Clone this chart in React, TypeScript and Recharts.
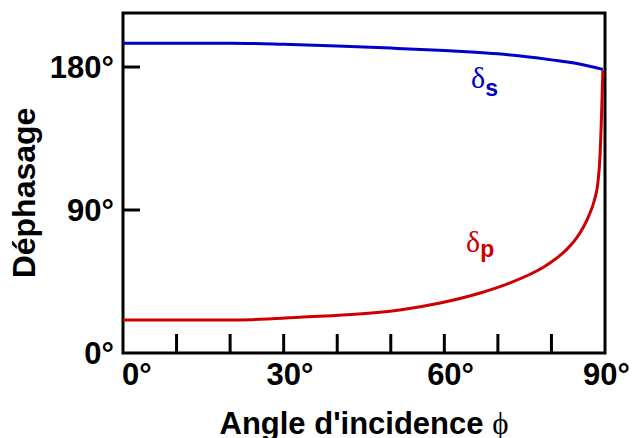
import { LineChart, Line, XAxis, YAxis, ReferenceArea, Customized } from "recharts";

// readings (angle in degrees -> phase shift in degrees)
const sAngles = [0, 10, 20, 30, 40, 50, 60, 65, 70, 75, 80, 85, 89.6];
const sPhase = [195, 195, 195, 194.3, 193.2, 191.9, 190.4, 189.5, 188.3, 186.6, 184.5, 182, 178.5];

const pAngles = [0, 10, 20, 24, 27, 33, 44, 51.7, 59.2, 66.7, 72.3, 76.6, 78.5, 80.5, 82, 83, 84.5, 86, 87, 88, 88.7, 89.1, 89.3, 89.45, 89.6];
const pPhase = [20.8, 20.8, 20.8, 21, 21.4, 22.5, 24.5, 27.1, 31.5, 37.8, 44.2, 50.5, 54, 58.5, 62.5, 65.7, 71.5, 79.5, 86.5, 96, 108, 126, 144, 160, 178];

const xTicks = [0, 10, 20, 30, 40, 50, 60, 70, 80, 90];
const xLabelled = [0, 30, 60, 90];
const yTicks = [0, 90, 180];

const sData = sAngles.map((a, i) => ({ angle: a, phase: sPhase[i] }));
const pData = pAngles.map((a, i) => ({ angle: a, phase: pPhase[i] }));

const FONT = "'Liberation Sans', Arial, sans-serif";
const SERIF = "'Liberation Serif', 'DejaVu Serif', serif";
const BLUE = "#0000c8";
const RED = "#cc0000";

const XTick = ({ x, y, payload }: any) => {
  const v = payload.value;
  const digits = String(v).length;
  let tx = x - digits * 8.6;
  if (tx < 122) tx = 122;
  if (tx > 583) tx = 583;
  return (
    <g>
      {v !== 0 && v !== 90 && (
        <line x1={x} x2={x} y1={y} y2={y - 19} stroke="#000" strokeWidth={3} />
      )}
      {xLabelled.includes(v) && (
        <text x={tx} y={y + 32} fontFamily={FONT} fontWeight="bold" fontSize={31} fill="#000">
          {v}°
        </text>
      )}
    </g>
  );
};

const YTick = ({ x, y, payload }: any) => (
  <g>
    {payload.value !== 0 && (
      <line x1={x} x2={x + 17} y1={y} y2={y} stroke="#000" strokeWidth={3} />
    )}
    <text x={x - 9} y={y + 11} textAnchor="end" fontFamily={FONT} fontWeight="bold" fontSize={31} fill="#000">
      {payload.value}°
    </text>
  </g>
);

const Annotations = () => (
  <g>
    <text x={35} y={193} transform="rotate(-90 35 193)" textAnchor="middle"
      fontFamily={FONT} fontWeight="bold" fontSize={32} fill="#000">
      Déphasage
    </text>
    <text x={364} y={434} textAnchor="middle" fontFamily={FONT} fontWeight="bold" fontSize={31} fill="#000">
      Angle d'incidence{" "}
      <tspan fontFamily={SERIF} fontWeight="normal">ϕ</tspan>
    </text>
    <text x={471} y={88} fill={BLUE}>
      <tspan fontFamily={SERIF} fontSize={30}>δ</tspan>
      <tspan fontFamily={FONT} fontWeight="bold" fontSize={23} dy={8}>s</tspan>
    </text>
    <text x={466} y={252} fill={RED}>
      <tspan fontFamily={SERIF} fontSize={30}>δ</tspan>
      <tspan fontFamily={FONT} fontWeight="bold" fontSize={23} dy={5}>p</tspan>
    </text>
  </g>
);

export default function App() {
  return (
    <div style={{ position: "absolute", left: 0, top: 0, width: 632, height: 438, background: "#fff" }}>
      <LineChart width={632} height={438} margin={{ top: 13, right: 27, left: 0, bottom: 0 }}>
        <XAxis
          type="number"
          dataKey="angle"
          domain={[0, 90]}
          ticks={xTicks}
          interval={0}
          height={85}
          axisLine={false}
          tickLine={false}
          tickSize={0}
          tickMargin={0}
          tick={<XTick />}
        />
        <YAxis
          type="number"
          dataKey="phase"
          domain={[0, 214]}
          ticks={yTicks}
          interval={0}
          width={123}
          axisLine={false}
          tickLine={false}
          tickSize={0}
          tickMargin={0}
          tick={<YTick />}
        />
        <ReferenceArea x1={0} x2={90} y1={0} y2={214} fill="none" stroke="#000" strokeWidth={3} />
        <Line data={sData} dataKey="phase" type="monotone" stroke={BLUE} strokeWidth={3} dot={false} isAnimationActive={false} />
        <Line data={pData} dataKey="phase" type="monotone" stroke={RED} strokeWidth={3} dot={false} isAnimationActive={false} />
        <Customized component={Annotations} />
      </LineChart>
    </div>
  );
}
